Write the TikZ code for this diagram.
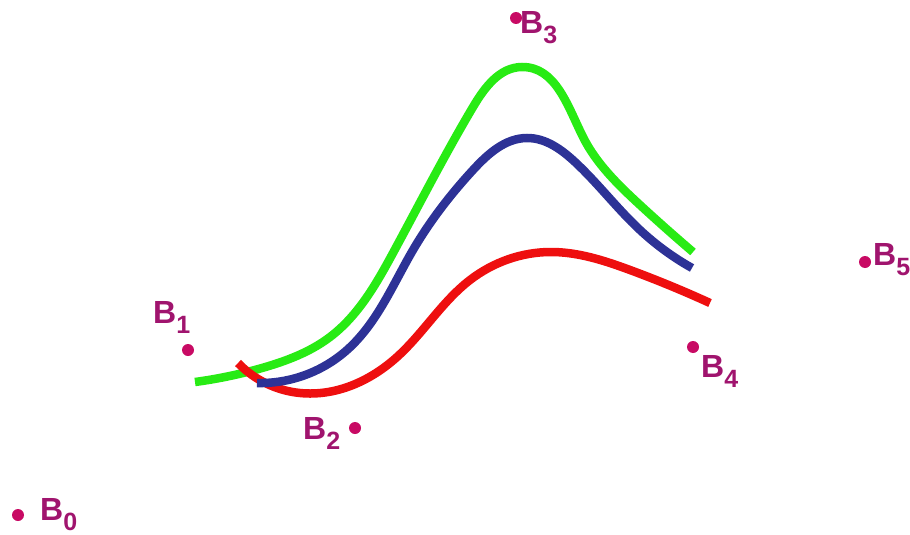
\documentclass[tikz,border=0pt]{standalone}
\usepackage{fontspec}
\setmainfont{Liberation Sans}
\usetikzlibrary{hobby}
\definecolor{lblcol}{RGB}{160,20,110}
\definecolor{dotcol}{RGB}{200,10,100}
\definecolor{cgreen}{RGB}{40,235,20}
\definecolor{cblue}{RGB}{45,50,150}
\definecolor{cred}{RGB}{238,15,15}
\newcommand{\blab}[1]{\bfseries B\raisebox{-10pt}{\fontsize{25}{25}\selectfont #1}}
\tikzset{
  ptdot/.style={circle,fill=dotcol,inner sep=0pt,minimum size=12pt},
  ptlabel/.style={anchor=base west,inner sep=0pt,text=lblcol,font=\fontsize{32}{32}\selectfont},
  curve/.style={line width=8.5pt,use Hobby shortcut}
}
\begin{document}
\begin{tikzpicture}[x=1pt,y=-1pt]
\useasboundingbox (0,0) rectangle (910,535);
% curves
\draw[curve,cgreen] (195,382) .. (262,368) .. (330,337) .. (393,253) .. (473,107) .. (522,67) .. (583,137) .. (640,205) .. (693,252);
\draw[curve,cred] (238,363) .. (300,393) .. (397,357) .. (470,280) .. (550,252) .. (630,270) .. (710,303);
\draw[curve,cblue] (257,383) .. (347,350) .. (413,250) .. (473,170) .. (527,138) .. (575,162) .. (640,230) .. (692,268);
% points
\node[ptdot] (d0) at (18,515) {};
\node[ptdot] (d1) at (188,350) {};
\node[ptdot] (d2) at (355,428) {};
\node[ptdot] (d3) at (516,18) {};
\node[ptdot] (d4) at (693,347) {};
\node[ptdot] (d5) at (865,262) {};
% labels
\node[ptlabel] (l0) at (40,520) {\blab{0}};
\node[ptlabel] (l1) at (153,323) {\blab{1}};
\node[ptlabel] (l2) at (303,439) {\blab{2}};
\node[ptlabel] (l3) at (520,34) {\blab{3}};
\node[ptlabel] (l4) at (701,377) {\blab{4}};
\node[ptlabel] (l5) at (873,265) {\blab{5}};
\end{tikzpicture}
\end{document}
